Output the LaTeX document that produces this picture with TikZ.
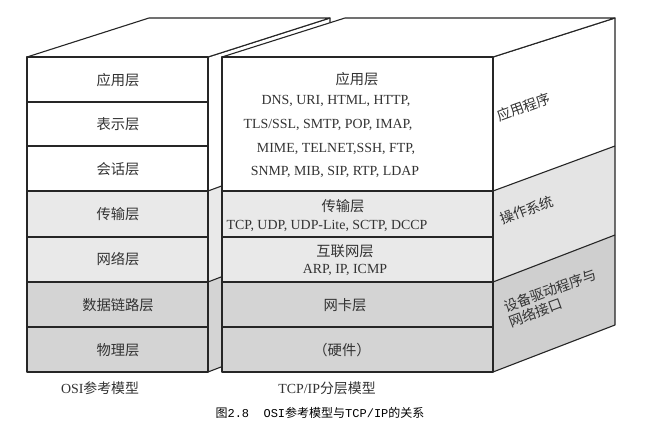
\documentclass[tikz,border=0pt]{standalone}
\usepackage{fontspec}
\setmainfont{Liberation Serif}
\setmonofont{Liberation Mono}
\newfontfamily\cjk{Noto Sans CJK SC}
\definecolor{lg}{HTML}{E9E9E9}
\definecolor{mg}{HTML}{D4D4D4}
\definecolor{sg}{HTML}{E4E4E4}
\definecolor{sd}{HTML}{CFCFCF}
\definecolor{tx}{HTML}{333333}
\begin{document}
\begin{tikzpicture}[x=1pt,y=-1pt,
  face/.style={draw=black!85,line width=1.1pt,line join=round},
  cn/.style={font=\cjk\fontsize{14.3}{15}\selectfont,text=tx,inner sep=0pt},
  ln/.style={font=\fontsize{13.9}{15}\selectfont,text=tx,inner sep=0pt},
  sidetxt/.style={font=\cjk\fontsize{14}{16}\selectfont,text=tx,inner sep=0pt,rotate=20,align=left}]
\useasboundingbox (0,0) rectangle (646,428);
\fill[white] (0,0) rectangle (646,428);
% ---------- left box (OSI) ----------
\fill[white] (208,57) -- (330,18) -- (330,146) -- (208,191) -- cycle;
\fill[lg] (208,191) -- (330,146) -- (330,235) -- (208,282) -- cycle;
\fill[mg] (208,282) -- (330,235) -- (330,325) -- (208,372) -- cycle;
\draw[face] (208,191) -- (330,146);
\draw[face] (208,282) -- (330,235);
\draw[face] (208,57) -- (330,18) -- (330,325) -- (208,372);
\draw[face,fill=white] (27,57) -- (149,18) -- (330,18) -- (208,57) -- cycle;
\draw[face,fill=white] (27,57) rectangle (208,102);
\draw[face,fill=white] (27,102) rectangle (208,146);
\draw[face,fill=white] (27,146) rectangle (208,191);
\draw[face,fill=lg] (27,191) rectangle (208,237);
\draw[face,fill=lg] (27,237) rectangle (208,282);
\draw[face,fill=mg] (27,282) rectangle (208,327);
\draw[face,fill=mg] (27,327) rectangle (208,372);
% ---------- right box (TCP/IP) ----------
\fill[white] (493,57) -- (615,18) -- (615,146) -- (493,191) -- cycle;
\fill[sg] (493,191) -- (615,146) -- (615,235) -- (493,282) -- cycle;
\fill[sd] (493,282) -- (615,235) -- (615,325) -- (493,372) -- cycle;
\draw[face] (493,191) -- (615,146);
\draw[face] (493,282) -- (615,235);
\draw[face] (493,57) -- (615,18) -- (615,325) -- (493,372);
\draw[face,fill=white] (222,57) -- (345,18) -- (615,18) -- (493,57) -- cycle;
\draw[face,fill=white] (222,57) rectangle (493,191);
\draw[face,fill=lg] (222,191) rectangle (493,237);
\draw[face,fill=lg] (222,237) rectangle (493,282);
\draw[face,fill=mg] (222,282) rectangle (493,327);
\draw[face,fill=mg] (222,327) rectangle (493,372);
% ---------- left labels ----------
\node[cn] (o7) at (118,80) {应用层};
\node[cn] (o6) at (118,124) {表示层};
\node[cn] (o5) at (118,169) {会话层};
\node[cn] (o4) at (118,214) {传输层};
\node[cn] (o3) at (118,259) {网络层};
\node[cn] (o2) at (118,305) {数据链路层};
\node[cn] (o1) at (118,350) {物理层};
% ---------- right labels ----------
\node[cn] (t4) at (357,79) {应用层};
\node[ln] (t4a) at (336,101) {DNS, URI, HTML, HTTP,};
\node[ln] (t4b) at (328,125) {TLS/SSL, SMTP, POP, IMAP,};
\node[ln] (t4c) at (336,149) {MIME, TELNET,SSH, FTP,};
\node[ln] (t4d) at (335,172) {SNMP, MIB, SIP, RTP, LDAP};
\node[cn] (t3) at (343,206) {传输层};
\node[ln] (t3a) at (327,226) {TCP, UDP, UDP-Lite, SCTP, DCCP};
\node[cn] (t2) at (345,251) {互联网层};
\node[ln] (t2a) at (345,270) {ARP, IP, ICMP};
\node[cn] (t1) at (345,305) {网卡层};
\node[cn] (t0) at (342,350) {（硬件）};
% ---------- side labels ----------
\node[sidetxt] (s1) at (524,107) {应用程序};
\node[sidetxt] (s2) at (527,210) {操作系统};
\node[sidetxt] (s3) at (553,298) {设备驱动程序与\\网络接口};
% ---------- bottom ----------
\node[ln,text=black!80] (osi) at (100,388) {OSI{\cjk 参考模型}};
\node[ln,text=black!80] (tcp) at (327,388) {TCP/IP{\cjk 分层模型}};
\node[font=\fontsize{12}{14}\selectfont,inner sep=0pt] (cap) at (320,413) {{\cjk 图}\texttt{2.8\ \ OSI}{\cjk 参考模型与}\texttt{TCP/IP}{\cjk 的关系}};
\end{tikzpicture}
\end{document}
